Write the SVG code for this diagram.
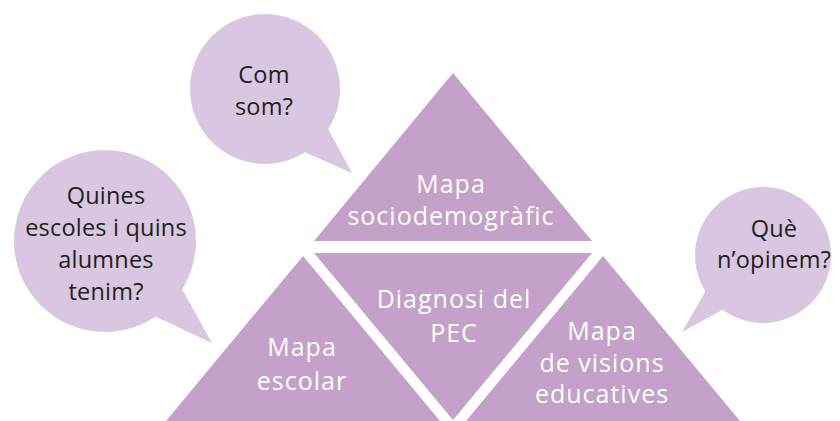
<svg xmlns="http://www.w3.org/2000/svg" width="840" height="421" viewBox="0 0 840 421">
<style>
.tri{fill:#c4a1c9}
.bub{fill:#d9c6e1}
.tw{font-family:"Open Sans","Liberation Sans",sans-serif;font-size:25px;fill:#ffffff;text-anchor:middle;letter-spacing:1px}
.tb{font-family:"Open Sans","Liberation Sans",sans-serif;font-size:23.5px;fill:#231f20;text-anchor:middle;letter-spacing:0.2px}
</style>
<rect width="840" height="421" fill="#ffffff"/>
<g id="bubble-com-som">
<circle class="bub" cx="265" cy="89" r="75"/>
<polygon class="bub" points="322,118 352,173 300,150"/>
<text class="tb" x="264" y="83">Com</text>
<text class="tb" x="264" y="115">som?</text>
</g>
<g id="bubble-quines">
<circle class="bub" cx="105" cy="241" r="91"/>
<polygon class="bub" points="178,282 212,343 150,314"/>
<text class="tb" x="106" y="204">Quines</text>
<text class="tb" x="106" y="236">escoles i quins</text>
<text class="tb" x="106" y="268">alumnes</text>
<text class="tb" x="106" y="300">tenim?</text>
</g>
<g id="bubble-que">
<circle class="bub" cx="763" cy="255" r="68"/>
<polygon class="bub" points="712,280 682,332 735,303"/>
<text class="tb" x="774" y="237">Què</text>
<text class="tb" x="774" y="268">n’opinem?</text>
</g>
<g id="mapa-sociodemografic">
<polygon class="tri" points="453,73 592,241 314,241"/>
<text class="tw" x="451" y="193">Mapa</text>
<text class="tw" x="451" y="225">sociodemogràfic</text>
</g>
<g id="diagnosi">
<polygon class="tri" points="314,253 592,253 453,420"/>
<text class="tw" x="454" y="308">Diagnosi del</text>
<text class="tw" x="454" y="342">PEC</text>
</g>
<g id="mapa-escolar">
<polygon class="tri" points="303,256 440,421 166,421"/>
<text class="tw" x="302" y="356">Mapa</text>
<text class="tw" x="302" y="390">escolar</text>
</g>
<g id="mapa-visions">
<polygon class="tri" points="603,256 740,421 466,421"/>
<text class="tw" x="602" y="340">Mapa</text>
<text class="tw" x="602" y="372">de visions</text>
<text class="tw" x="602" y="403">educatives</text>
</g>
<g id="connectors"></g>
</svg>
